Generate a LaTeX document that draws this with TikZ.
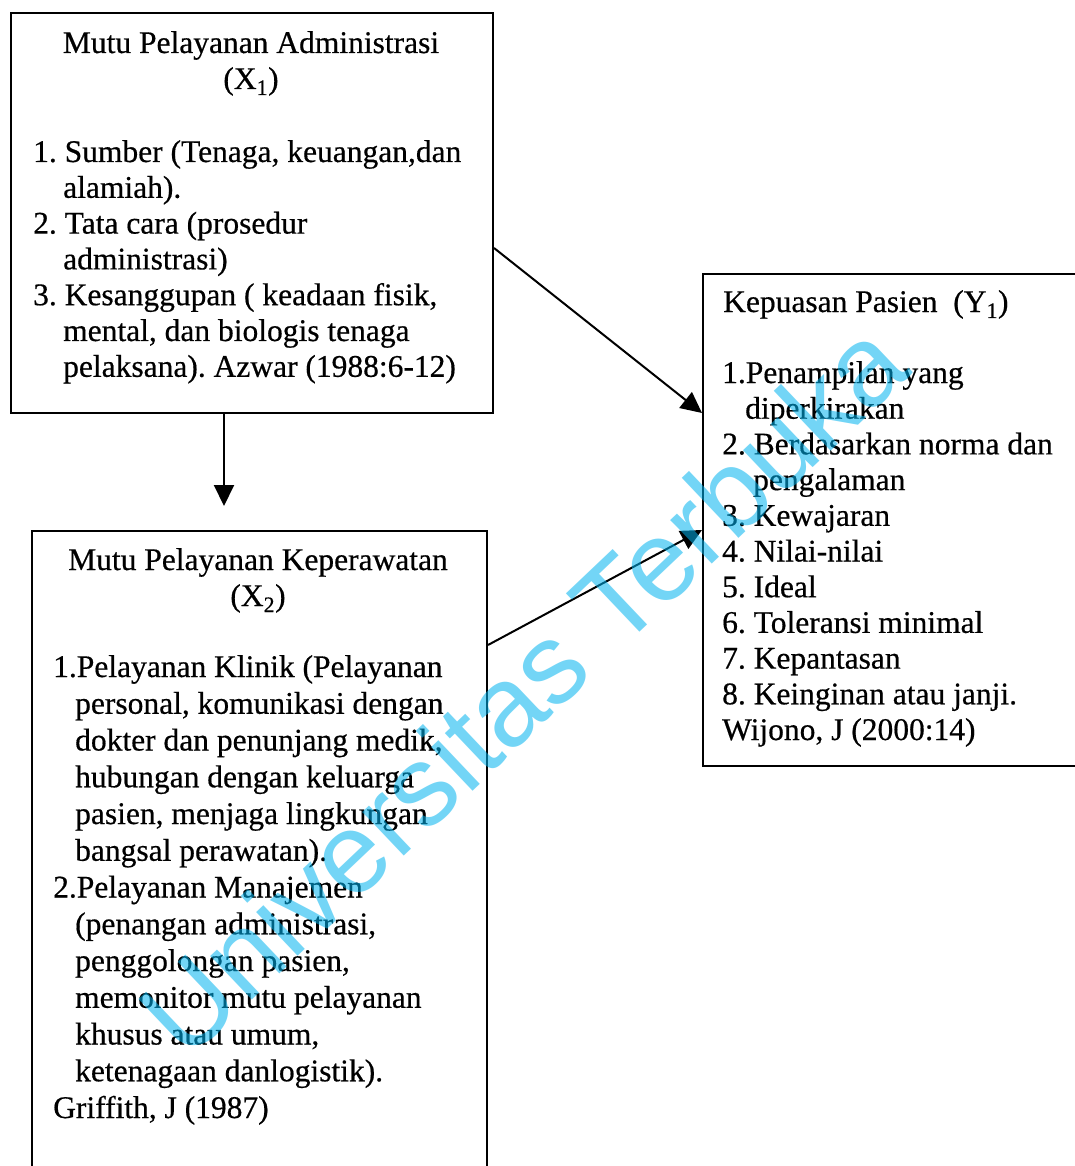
\documentclass[tikz,border=0pt]{standalone}
\usepackage{fontspec}
\setmainfont[FakeBold=0.5]{Liberation Serif}
\newfontfamily\wmfont{Liberation Sans}
\usetikzlibrary{arrows.meta,calc}
\definecolor{wmcyan}{RGB}{0,180,240}
\frenchspacing
\begin{document}
\begin{tikzpicture}[x=1pt,y=-1pt,
  box/.style={draw,line width=2pt,rectangle,inner sep=0pt,anchor=north west},
  txt/.style={inner sep=0pt,anchor=base west},
  ttl/.style={inner sep=0pt,anchor=base},
  arr/.style={line width=2pt,-{Triangle[length=21pt,width=20pt]}},
  wm/.style={inner sep=0pt,font=\wmfont\fontsize{114}{114}\selectfont,text=wmcyan,text opacity=0.55,rotate=43.5}
]
\useasboundingbox (0,0) rectangle (1075,1166);
\clip (0,0) rectangle (1075,1166);
\fill[white] (0,0) rectangle (1075,1166);

% boxes
\node[box,minimum width=482pt,minimum height=400pt] (b1) at (10,12) {};
\node[box,minimum width=455pt,minimum height=700pt] (b2) at (31,530) {};
\node[box,minimum width=400pt,minimum height=492pt] (b3) at (702,273) {};

% box 1 text
\node[ttl] (t1) at (251,53) {\parbox[t]{460pt}{\fontsize{31.5}{36}\selectfont\centering
Mutu Pelayanan Administrasi\\(X\textsubscript{1})}};
\node[txt] (l1) at (33,162) {\parbox[t]{470pt}{\fontsize{31.5}{35.8}\selectfont
1. Sumber (Tenaga, keuangan,dan\\
\hspace*{30pt}alamiah).\\
2. Tata cara (prosedur\\
\hspace*{30pt}administrasi)\\
3. Kesanggupan ( keadaan fisik,\\
\hspace*{30pt}mental, dan biologis tenaga\\
\hspace*{30pt}pelaksana). Azwar (1988:6-12)}};

% box 2 text
\node[ttl] (t2) at (258,570) {\parbox[t]{440pt}{\fontsize{31.5}{36}\selectfont\centering
Mutu Pelayanan Keperawatan\\(X\textsubscript{2})}};
\node[txt] (l2) at (53,677) {\parbox[t]{440pt}{\fontsize{31.5}{36.75}\selectfont
1.Pelayanan Klinik (Pelayanan\\
\hspace*{22pt}personal, komunikasi dengan\\
\hspace*{22pt}dokter dan penunjang medik,\\
\hspace*{22pt}hubungan dengan keluarga\\
\hspace*{22pt}pasien, menjaga lingkungan\\
\hspace*{22pt}bangsal perawatan).\\
2.Pelayanan Manajemen\\
\hspace*{22pt}(penangan administrasi,\\
\hspace*{22pt}penggolongan pasien,\\
\hspace*{22pt}memonitor mutu pelayanan\\
\hspace*{22pt}khusus atau umum,\\
\hspace*{22pt}ketenagaan danlogistik).\\
Griffith, J (1987)}};

% box 3 text
\node[txt] (t3) at (723,312) {\fontsize{31.5}{36}\selectfont Kepuasan Pasien\ \ (Y\textsubscript{1})};
\node[txt] (l3) at (722,383) {\parbox[t]{360pt}{\fontsize{31.5}{35.7}\selectfont
1.Penampilan yang\\
\hspace*{23pt}diperkirakan\\
2. Berdasarkan norma dan\\
\hspace*{31pt}pengalaman\\
3. Kewajaran\\
4. Nilai-nilai\\
5. Ideal\\
6. Toleransi minimal\\
7. Kepantasan\\
8. Keinginan atau janji.\\
Wijono, J (2000:14)}};

% connectors
\draw[arr,shorten >=24pt] ($(b1.south west)+(214,0)$) coordinate (v1) -- (v1 |- b2.north);
\draw[arr] ($(b1.north east)+(0,236)$) -- ($(b3.north west)+(0,140)$);
\draw[arr] ($(b2.north east)+(0,115)$) -- ($(b3.north west)+(0,257)$);

% watermark
\node[wm] (wmk) at (522,688) {Universitas Terbuka};
\end{tikzpicture}
\end{document}
